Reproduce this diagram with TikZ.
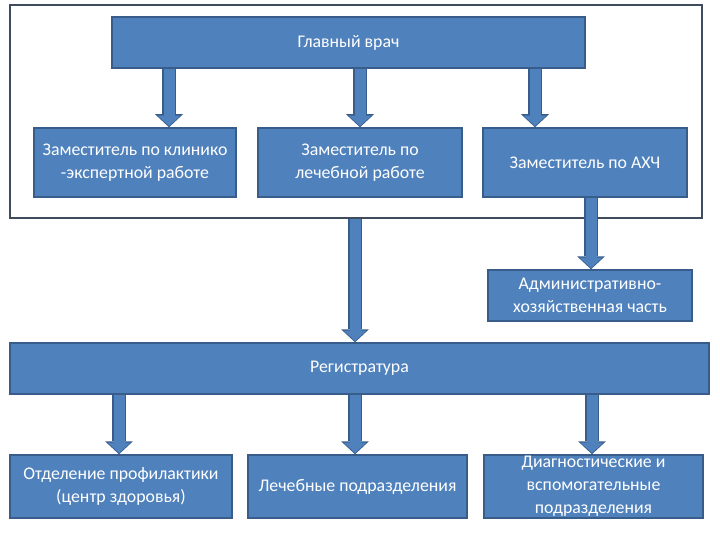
\documentclass[tikz,border=0pt]{standalone}
\usepackage{fontspec}
\setmainfont{Carlito}
\usepackage{xcolor}
\definecolor{boxfill}{RGB}{79, 129, 189}
\definecolor{boxline}{RGB}{56, 93, 138}
\definecolor{frameline}{RGB}{62, 76, 94}
\usepackage{tikz}
\usetikzlibrary{arrows.meta, positioning, calc}

\begin{document}
\begin{tikzpicture}[x=1pt, y=-1pt, >=Stealth,
    unit/.style={draw=boxline, fill=boxfill, line width=1.5pt, text=white, align=center,
        inner sep=0pt, font=\fontsize{17.8}{23}\selectfont},
    frame/.style={draw=frameline, line width=1.6pt, fill=white, inner sep=0pt},
    pipe/.style={draw=boxfill, line width=11pt, shorten >=1.2pt,
        -{Triangle[length=10.5pt, width=23pt, line width=0pt]},
        preaction={draw=boxline, line width=14pt, shorten >=0pt,
            -{Triangle[length=13pt, width=28pt, line width=0pt]}}}]
    \fill[white] (0,0) rectangle (720,540);
    \useasboundingbox (0,0) rectangle (720,540);

    \node[frame, minimum width=692pt, minimum height=213pt] (admin) at (356,111.5) {};
    \node[unit, minimum width=473pt, minimum height=51pt] (chief) at (348.5,42.5) {Главный врач};
    \node[unit, minimum width=202pt, minimum height=69pt] (depclin) at (135,162.5) {Заместитель по клинико\\-экспертной работе};
    \node[unit, minimum width=204pt, minimum height=69pt] (depmed) at (360,162.5) {Заместитель по\\лечебной работе};
    \node[unit, minimum width=204pt, minimum height=69pt] (depahch) at (585,162.5) {Заместитель по АХЧ};
    \node[unit, minimum width=204pt, minimum height=51pt] (ahch) at (590,295.5) {Административно-\\хозяйственная часть};
    \node[unit, minimum width=699pt, minimum height=51pt] (reg) at (359.5,368.5) {Регистратура};
    \node[unit, minimum width=222pt, minimum height=63pt] (prof) at (121,486.5) {Отделение профилактики\\(центр здоровья)};
    \node[unit, minimum width=219pt, minimum height=63pt] (medsub) at (357.5,486.5) {Лечебные подразделения};
    \node[unit, minimum width=219pt, minimum height=63pt] (diag) at (593.5,486.5) {Диагностические и\\вспомогательные\\подразделения};

    \coordinate (c1) at (169,0);
    \coordinate (c2) at (360,0);
    \coordinate (c3) at (535,0);
    \coordinate (c4) at (591,0);
    \coordinate (c5) at (355,0);
    \coordinate (c6) at (119,0);
    \coordinate (c7) at (592,0);

    \draw[pipe] (chief.south -| c1) -- (depclin.north -| c1);
    \draw[pipe] (chief.south -| c2) -- (depmed.north -| c2);
    \draw[pipe] (chief.south -| c3) -- (depahch.north -| c3);
    \draw[pipe] (depahch.south -| c4) -- (ahch.north -| c4);
    \draw[pipe] (admin.south -| c5) -- (reg.north -| c5);
    \draw[pipe] (reg.south -| c6) -- (prof.north -| c6);
    \draw[pipe] (reg.south -| c5) -- (medsub.north -| c5);
    \draw[pipe] (reg.south -| c7) -- (diag.north -| c7);
\end{tikzpicture}
\end{document}
